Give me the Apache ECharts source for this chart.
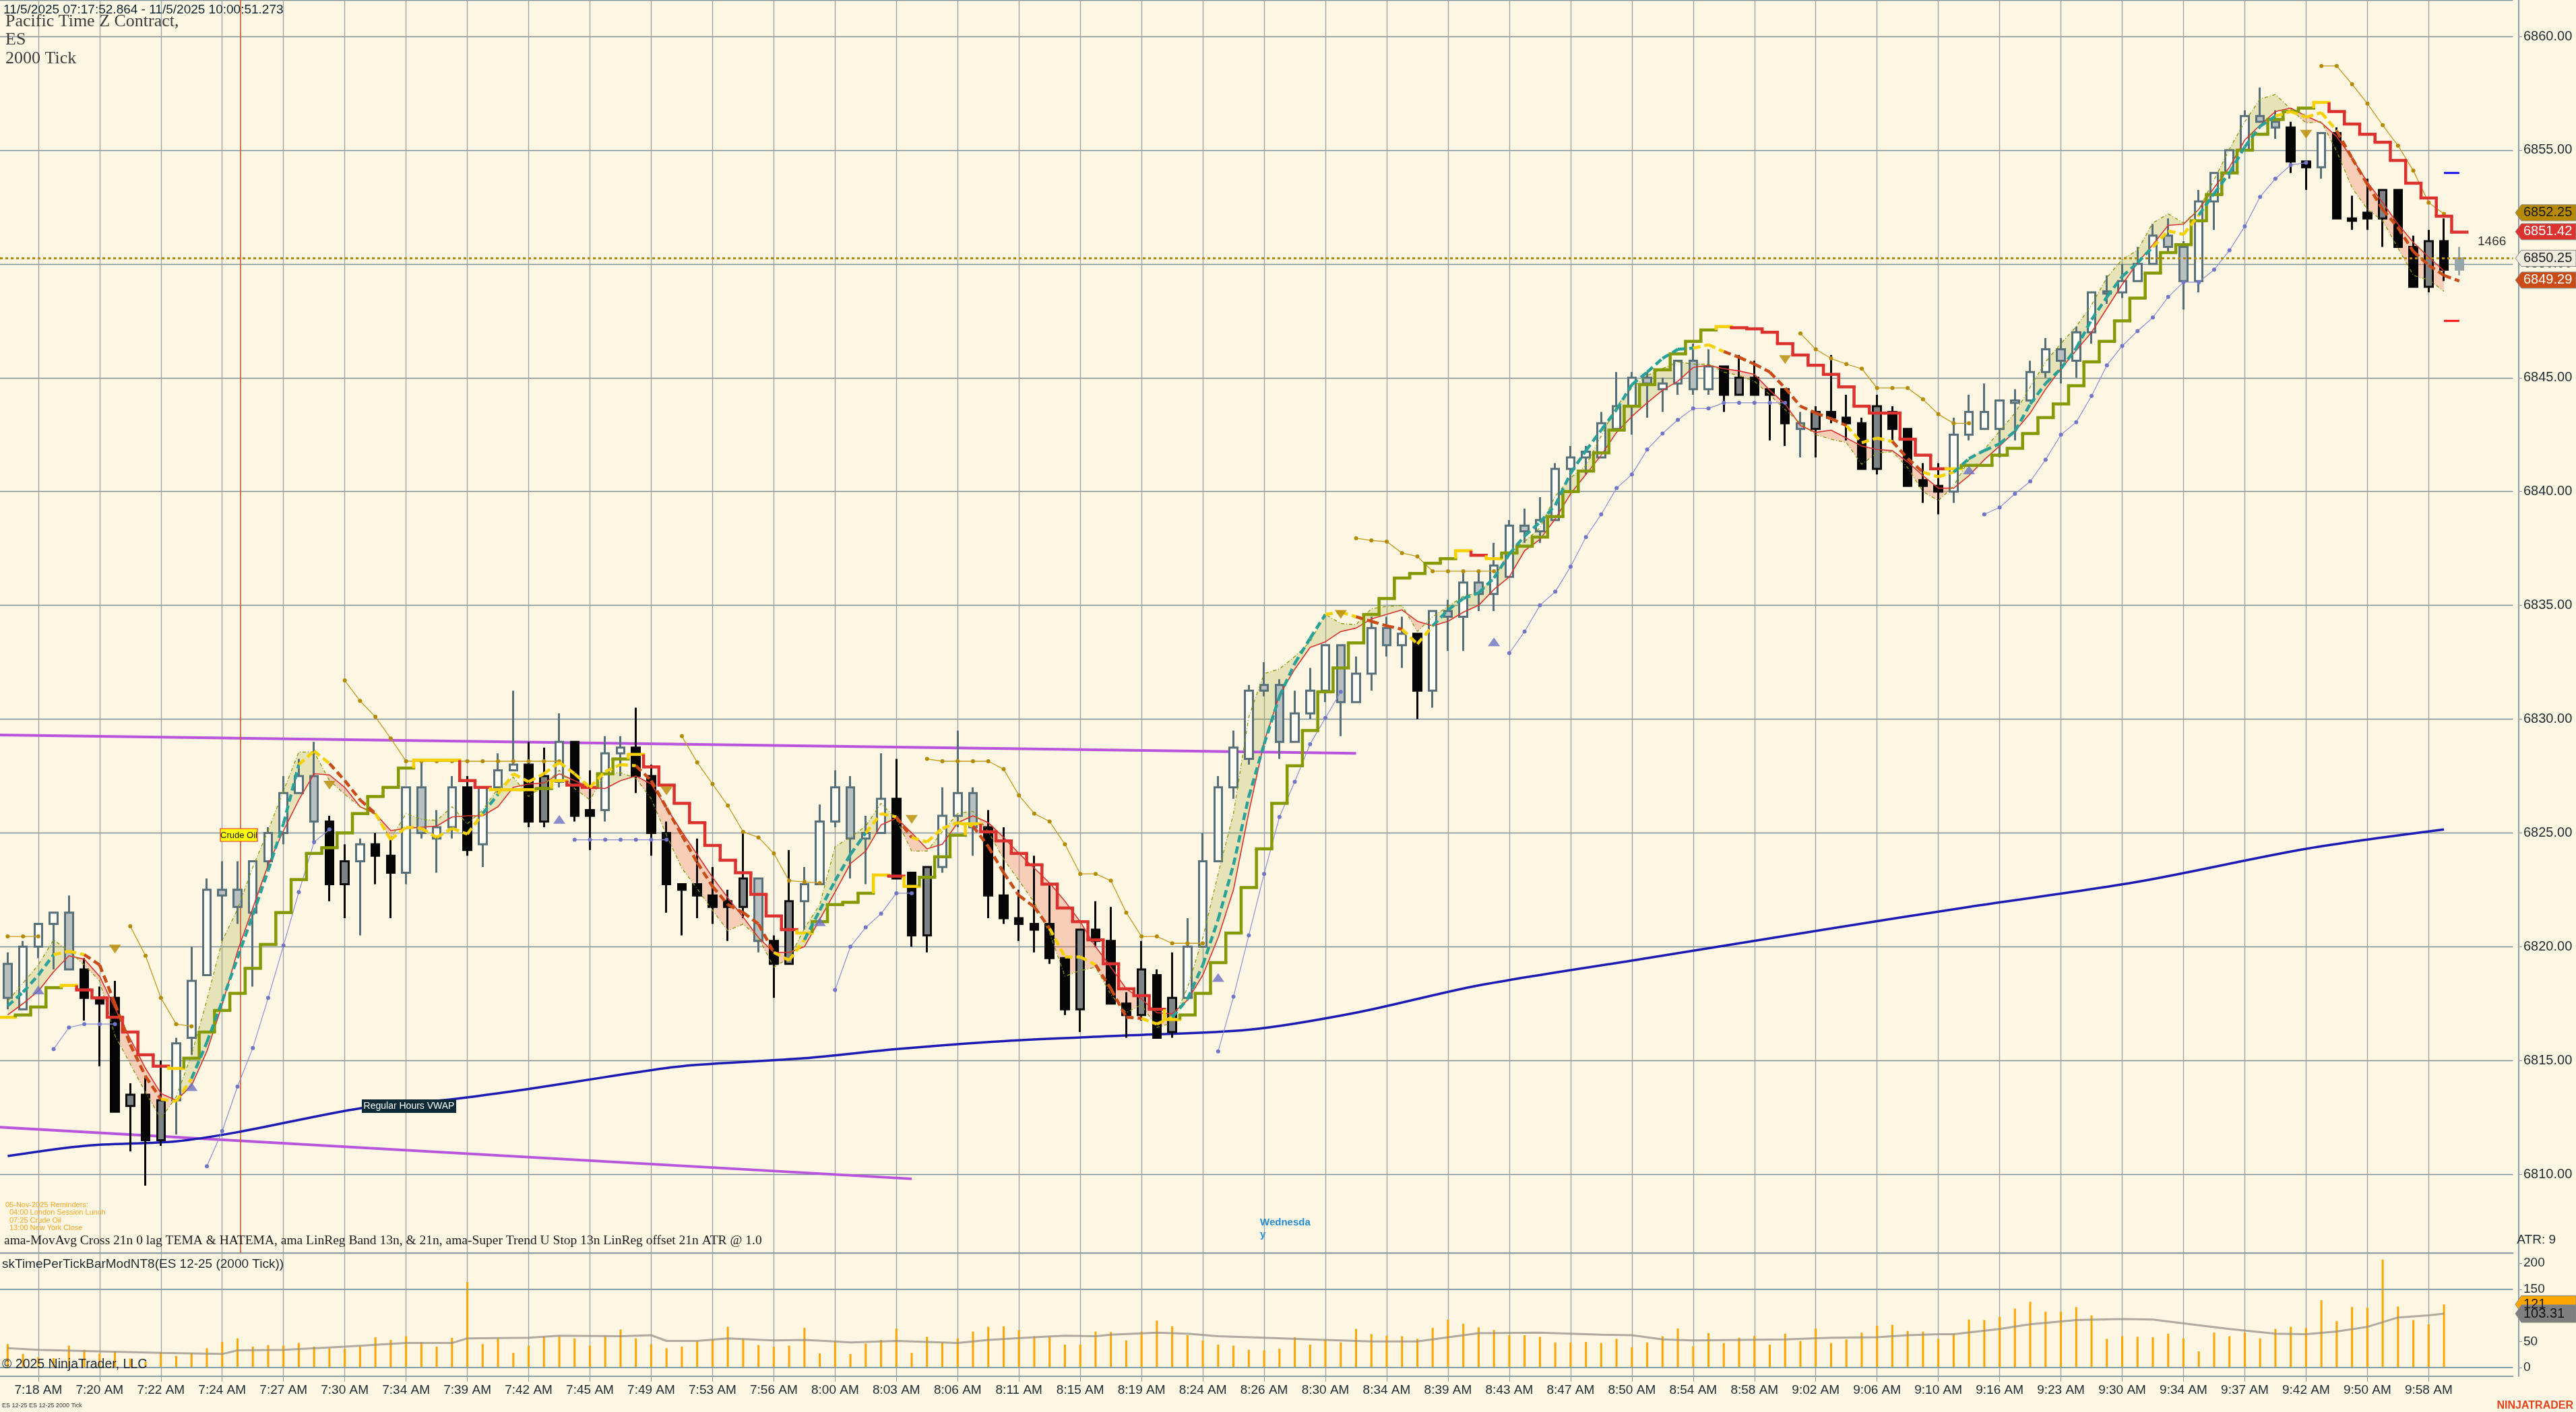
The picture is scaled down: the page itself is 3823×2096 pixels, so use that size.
<!DOCTYPE html>
<html><head><meta charset="utf-8">
<script src="https://cdn.jsdelivr.net/npm/echarts@6/dist/echarts.min.js"></script>
<style>html,body{margin:0;padding:0;background:#fdf6e3;}#c{width:3823px;height:2096px;}</style>
</head><body><div id="c"></div>
<script>
// ---------------- DATA ----------------
const timeLabels = ['7:18 AM','7:20 AM','7:22 AM','7:24 AM','7:27 AM','7:30 AM','7:34 AM','7:39 AM','7:42 AM','7:45 AM','7:49 AM','7:53 AM','7:56 AM','8:00 AM','8:03 AM','8:06 AM','8:11 AM','8:15 AM','8:19 AM','8:24 AM','8:26 AM','8:30 AM','8:34 AM','8:39 AM','8:43 AM','8:47 AM','8:50 AM','8:54 AM','8:58 AM','9:02 AM','9:06 AM','9:10 AM','9:16 AM','9:23 AM','9:30 AM','9:34 AM','9:37 AM','9:42 AM','9:50 AM','9:58 AM'];

const opens = [6819.25,6817.25,6820.0,6821.0,6821.5,6819.0,6817.75,6817.75,6813.0,6813.5,
6811.5,6813.25,6816.0,6818.75,6822.5,6822.5,6821.5,6823.75,6825.0,6826.75,
6827.5,6825.5,6822.75,6823.75,6824.5,6824.0,6823.25,6827.0,6824.75,6825.25,
6827.0,6824.5,6827.0,6827.75,6828.0,6825.5,6827.25,6829.0,6826.0,6826.0,
6828.5,6828.75,6827.5,6825.0,6822.75,6822.75,6822.25,6822.0,6821.75,6823.0,
6820.25,6819.25,6822.0,6822.75,6825.5,6827.0,6824.75,6825.0,6826.5,6823.25,
6820.5,6823.5,6825.75,6826.75,6825.25,6822.25,6821.25,6821.0,6821.0,6819.5,
6817.25,6820.75,6820.25,6817.5,6817.0,6818.75,6816.25,6817.75,6820.0,6823.75,
6827.0,6828.25,6831.5,6831.5,6829.0,6830.25,6831.25,6833.25,6830.75,6832.0,
6834.0,6833.25,6833.75,6831.25,6834.75,6834.5,6836.0,6835.5,6836.25,6838.5,
6838.25,6838.75,6841.0,6841.5,6841.5,6842.75,6843.75,6845.0,6844.5,6844.75,
6845.75,6844.5,6845.5,6844.25,6845.0,6844.5,6844.5,6843.0,6842.75,6843.5,
6843.25,6843.0,6841.0,6843.5,6842.75,6840.5,6840.25,6840.0,6842.5,6842.75,
6842.75,6843.9,6844.0,6845.25,6846.25,6845.75,6847.0,6848.8,6848.75,6849.25,
6850.0,6851.25,6850.75,6849.25,6852.75,6854.0,6855.0,6856.5,6856.25,6856.0,
6854.5,6854.25,6855.75,6852.0,6852.25,6852.0,6853.25,6850.75,6849.0,6851.0,
6849.75];
const highs = [6819.75,6820.25,6821.0,6821.5,6822.25,6819.5,6818.25,6818.5,6814.0,6814.25,
6815.0,6816.0,6820.0,6823.0,6823.75,6823.75,6823.75,6825.25,6827.5,6828.25,
6829.0,6825.75,6824.5,6824.75,6825.0,6824.75,6827.0,6828.25,6826.0,6827.5,
6827.5,6827.0,6828.5,6831.25,6829.0,6828.75,6830.25,6829.0,6827.75,6829.25,
6829.25,6830.5,6828.0,6825.5,6822.75,6824.75,6823.5,6822.5,6825.0,6823.0,
6820.5,6824.25,6823.5,6826.25,6827.75,6827.5,6825.75,6828.5,6828.25,6823.25,
6823.5,6827.0,6829.5,6827.0,6826.0,6825.25,6822.5,6824.0,6822.75,6819.5,
6820.75,6822.0,6821.75,6818.0,6820.25,6819.0,6819.75,6821.25,6825.0,6827.5,
6829.5,6831.5,6832.5,6831.75,6831.25,6832.25,6833.25,6833.25,6832.75,6834.5,
6834.5,6834.5,6833.75,6834.75,6835.25,6836.5,6836.5,6837.75,6838.75,6839.25,
6839.75,6841.25,6842.0,6842.0,6843.5,6845.25,6845.25,6845.25,6845.0,6845.75,
6846.5,6846.25,6845.5,6846.0,6845.75,6844.5,6844.5,6843.5,6843.75,6846.0,
6844.25,6843.25,6844.25,6843.75,6842.75,6841.25,6841.25,6843.25,6844.25,6844.75,
6844.0,6844.5,6845.75,6846.75,6846.75,6847.25,6848.75,6849.5,6850.0,6850.75,
6851.75,6852.0,6851.0,6853.25,6854.0,6855.0,6856.75,6857.75,6856.75,6856.25,
6854.5,6855.75,6856.0,6853.0,6853.75,6853.25,6853.25,6851.25,6851.5,6852.0,
6850.75];
const lows = [6817.25,6817.25,6819.5,6819.0,6819.0,6816.75,6814.75,6812.75,6811.0,6809.5,
6811.25,6811.75,6815.25,6818.75,6820.25,6821.0,6818.25,6823.5,6824.5,6826.75,
6824.5,6822.0,6821.25,6820.5,6822.75,6821.25,6822.75,6824.75,6823.25,6824.75,
6824.0,6823.5,6826.75,6827.75,6825.25,6825.25,6827.0,6825.5,6824.25,6825.5,
6827.5,6826.75,6824.0,6821.5,6820.5,6821.25,6821.0,6820.25,6821.25,6819.75,
6817.75,6819.25,6820.75,6822.75,6825.25,6823.0,6822.75,6825.0,6823.0,6820.0,
6819.75,6823.25,6825.25,6824.0,6821.25,6821.0,6820.25,6819.75,6819.25,6817.0,
6816.25,6820.0,6817.5,6816.0,6816.75,6816.0,6816.0,6817.75,6820.0,6823.75,
6826.5,6828.0,6831.0,6828.25,6829.0,6830.0,6830.75,6829.25,6830.75,6831.25,
6832.75,6832.25,6830.0,6830.5,6833.0,6833.0,6834.75,6834.75,6836.25,6837.75,
6837.75,6838.75,6840.0,6840.75,6841.5,6842.75,6842.5,6843.25,6843.5,6844.25,
6844.25,6844.25,6843.5,6844.25,6844.25,6842.25,6842.0,6841.5,6841.5,6843.0,
6842.25,6841.0,6840.75,6842.25,6840.25,6839.5,6839.0,6839.5,6842.25,6842.75,
6841.5,6842.25,6844.0,6845.0,6844.75,6845.0,6846.5,6848.25,6848.5,6849.25,
6850.0,6850.5,6848.0,6848.75,6851.5,6853.75,6855.0,6856.25,6855.5,6854.0,
6853.25,6853.75,6852.0,6851.5,6851.5,6850.75,6850.75,6849.0,6848.75,6849.25,
6849.5];
const closes = [6817.75,6820.0,6821.0,6821.5,6819.0,6817.75,6817.5,6812.75,6813.5,6811.5,
6813.25,6815.75,6818.5,6822.5,6822.25,6821.75,6823.75,6825.0,6826.75,6827.5,
6825.5,6822.75,6823.75,6824.5,6824.0,6823.25,6827.0,6825.0,6825.25,6827.0,
6824.25,6827.0,6827.75,6828.0,6825.5,6827.5,6829.0,6825.75,6825.75,6828.5,
6828.75,6827.5,6825.0,6822.75,6822.5,6822.25,6821.75,6821.75,6823.0,6820.25,
6819.25,6822.0,6822.75,6825.5,6827.0,6824.75,6825.0,6826.5,6823.0,6820.5,
6823.5,6825.75,6826.75,6825.25,6822.25,6821.25,6821.0,6820.75,6819.5,6817.25,
6820.75,6820.25,6817.5,6817.0,6819.0,6816.0,6817.75,6820.0,6823.75,6827.0,
6828.75,6831.25,6831.25,6829.0,6830.25,6831.25,6833.25,6830.75,6832.0,6834.0,
6833.25,6833.75,6831.25,6834.75,6834.5,6836.0,6835.5,6836.75,6838.5,6838.25,
6838.75,6841.0,6841.5,6841.75,6843.0,6843.75,6845.0,6844.75,6844.75,6845.75,
6844.5,6845.5,6844.25,6845.0,6844.25,6844.25,6843.0,6842.75,6843.5,6843.25,
6843.0,6841.0,6843.75,6842.75,6840.25,6840.25,6840.0,6842.5,6843.5,6843.5,
6844.0,6844.0,6845.25,6846.25,6845.75,6847.0,6848.75,6848.7,6849.25,6850.0,
6851.25,6850.75,6849.25,6852.75,6854.0,6855.0,6856.5,6856.25,6856.0,6854.5,
6854.25,6855.75,6852.0,6851.9,6852.0,6853.25,6850.75,6849.0,6851.0,6849.75,
6850.25];

// LinReg band: thin red line and olive dash-dot line
const lrRed = [6817.0,6817.5,6818.05,6818.9,6819.6,6819.45,6818.7,6817.3,6815.95,6814.65,
6813.55,6813.25,6813.9,6815.4,6817.45,6819.8,6821.7,6823.6,6825.1,6826.45,
6827.6,6827.55,6827.0,6826.15,6825.85,6825.1,6825.2,6825.25,6825.3,6825.7,
6825.75,6825.75,6826.15,6827.0,6827.15,6827.2,6827.6,6827.3,6827.0,6826.95,
6827.3,6827.5,6827.15,6826.1,6825.05,6824.05,6823.05,6822.15,6821.3,6820.4,
6819.75,6819.75,6820.0,6821.2,6822.4,6823.65,6824.2,6825.35,6825.65,6825.0,
6824.3,6824.5,6825.45,6825.75,6825.45,6824.8,6824.1,6823.45,6822.8,6822.0,
6821.1,6820.0,6819.1,6818.15,6817.7,6817.1,6817.05,6817.65,6818.75,6820.4,
6822.5,6825.9,6829.0,6831.05,6832.2,6833.15,6833.4,6833.85,6834.0,6834.4,
6834.6,6834.8,6834.3,6834.1,6834.3,6834.7,6835.0,6835.7,6836.25,6837.4,
6837.9,6838.8,6839.9,6840.75,6841.6,6842.6,6843.3,6843.9,6844.45,6844.85,
6845.45,6845.55,6845.4,6845.3,6845.15,6844.45,6843.85,6842.9,6842.6,6842.7,
6842.35,6842.0,6841.85,6841.8,6841.3,6840.7,6840.15,6840.15,6840.7,6841.4,
6842.0,6842.65,6843.45,6844.5,6845.4,6846.2,6847.0,6848.05,6849.1,6850.05,
6850.85,6851.7,6851.75,6852.4,6853.35,6854.25,6855.45,6856.1,6856.7,6856.85,
6856.5,6856.2,6855.6,6854.65,6853.6,6852.7,6851.75,6850.95,6850.3,6849.7];
const lrOlive = [6817.6,6818.4,6819.2,6820.3,6819.8,6819.2,6818.5,6816.1,6814.85,6813.6,
6812.45,6813.4,6815.25,6817.65,6820.25,6821.65,6823.5,6825.1,6826.85,6828.55,
6828.55,6827.3,6826.7,6826.15,6825.8,6824.75,6825.85,6825.6,6825.55,6826.15,
6825.4,6826.0,6826.95,6827.45,6826.6,6827.1,6827.75,6826.95,6826.45,6827.6,
6827.65,6827.4,6826.5,6824.9,6823.45,6822.55,6821.6,6820.7,6821.0,6820.4,
6819.1,6819.5,6820.8,6821.85,6824.4,6824.8,6825.3,6826.3,6825.6,6824.2,
6824.2,6825.05,6825.85,6825.95,6825.05,6823.85,6822.9,6821.95,6820.6,6818.7,
6818.95,6819.1,6817.9,6817.1,6817.45,6816.45,6816.65,6818.2,6820.4,6823.2,
6825.85,6830.1,6832.0,6832.2,6832.75,6833.4,6834.6,6834.2,6834.15,6834.85,
6834.95,6835.0,6833.85,6834.5,6834.95,6835.4,6835.55,6836.2,6837.35,6837.8,
6838.4,6839.8,6840.6,6841.15,6842.45,6843.75,6844.55,6845.1,6845.4,6845.7,
6845.6,6845.6,6845.25,6845.1,6844.85,6844.25,6843.6,6843.0,6842.5,6842.3,
6842.15,6841.2,6841.7,6841.75,6841.05,6840.0,6839.6,6840.25,6841.4,6841.85,
6842.65,6843.45,6844.6,6845.7,6846.5,6847.25,6848.2,6849.4,6850.2,6850.6,
6851.8,6852.2,6851.8,6852.4,6853.7,6855.05,6856.25,6857.25,6857.45,6856.8,
6856.2,6856.25,6854.95,6853.35,6852.4,6851.9,6850.7,6849.5,6849.3,6848.8];

// TEMA (dashed, coloured by slope)
const tema = [6817.4,6818.0,6818.75,6819.65,6819.8,6819.65,6819.2,6817.5,6815.7,6814.3,
6813.3,6813.2,6814.2,6815.8,6817.6,6819.5,6821.4,6823.35,6825.4,6828.0,
6828.6,6828.05,6827.3,6826.45,6825.85,6824.7,6825.25,6825.2,6824.8,6825.2,
6824.95,6825.85,6826.7,6827.6,6827.25,6827.6,6828.1,6827.6,6827.0,6827.7,
6828.0,6827.95,6827.3,6826.1,6824.9,6823.7,6822.65,6821.85,6821.5,6821.0,
6819.75,6819.4,6820.3,6821.6,6822.9,6824.05,6825.0,6825.85,6825.7,6824.8,
6824.6,6825.2,6825.45,6825.3,6824.4,6823.25,6822.25,6821.75,6820.8,6819.55,
6819.55,6819.2,6818.15,6816.9,6816.85,6816.6,6816.9,6817.7,6819.2,6821.2,
6823.6,6826.6,6828.9,6831.0,6832.45,6833.55,6834.6,6834.7,6834.5,6834.3,
6834.1,6833.95,6833.3,6834.1,6834.8,6835.3,6835.55,6836.2,6837.25,6838.05,
6838.65,6839.4,6840.8,6841.8,6842.7,6843.6,6844.7,6845.25,6845.85,6846.25,
6846.3,6846.45,6846.15,6845.9,6845.6,6845.25,6844.55,6843.75,6843.45,6843.2,
6842.9,6842.15,6842.35,6842.2,6841.45,6840.85,6840.65,6840.85,6841.45,6841.8,
6842.1,6842.65,6843.85,6844.75,6845.4,6846.3,6847.55,6848.55,6849.45,6850.05,
6850.75,6851.45,6851.3,6852.15,6853.1,6854.0,6855.15,6856.05,6856.5,6856.7,
6856.45,6856.65,6855.85,6854.65,6853.5,6852.4,6851.6,6850.55,6849.95,6849.5,6849.25];

// Super Trend U Stop (step line) and its state per bar (u = up, d = down, y = flip)
const stValues = [6816.9,6817.0,6817.35,6818.2,6818.3,6818.1,6817.75,6816.9,6816.25,6815.25,
6814.75,6814.65,6815.1,6816.25,6817.2,6817.95,6819.05,6820.1,6821.5,6822.95,
6824.1,6824.35,6825.0,6825.85,6826.6,6827.0,6827.85,6828.2,6828.2,6828.2,
6827.3,6827.0,6826.9,6826.9,6826.9,6826.95,6827.3,6827.1,6827.0,6827.6,
6828.25,6828.45,6827.9,6827.1,6826.3,6825.45,6824.45,6823.8,6823.25,6822.3,
6821.35,6820.75,6820.6,6821.1,6821.85,6821.95,6822.35,6823.15,6823.1,6822.65,
6823.05,6823.95,6824.9,6825.4,6825.05,6824.65,6824.1,6823.6,6822.75,6821.7,
6821.1,6820.3,6819.25,6818.15,6817.85,6817.25,6816.8,6817.0,6817.95,6819.3,
6820.6,6822.6,6824.3,6826.3,6827.95,6829.5,6831.2,6832.25,6833.35,6834.6,
6835.3,6836.2,6836.4,6836.85,6837.05,6837.4,6837.2,6837.05,6837.3,6837.6,
6838.0,6838.9,6840.0,6840.9,6841.7,6842.7,6843.75,6844.7,6845.35,6846.05,
6846.6,6847.1,6847.25,6847.2,6847.15,6847.0,6846.5,6846.0,6845.55,6845.15,
6844.6,6843.75,6843.45,6843.45,6842.3,6841.6,6841.0,6841.0,6841.15,6841.15,
6841.6,6841.9,6842.55,6843.25,6843.85,6844.65,6845.7,6846.6,6847.5,6848.5,
6849.6,6850.5,6850.85,6851.9,6853.05,6854.0,6855.0,6855.7,6856.35,6856.7,
6856.85,6857.1,6856.7,6856.15,6855.7,6855.35,6854.55,6853.55,6852.9,6852.1,6851.4];
const stStateRuns = [['y',1],['u',3],['y',1],['d',6],['y',1],['u',15],['y',3],['d',2],['y',3],['u',1],['y',1],['d',2],['u',2],['y',1],['d',10],['y',1],['u',4],['y',1],['d',1],['y',1],['u',3],['y',1],['d',12],['y',1],['u',18],['y',1],['d',1],['y',1],['u',14],['y',1],['d',14],['y',1],['u',23],['y',1],['d',9]];

// trailing stop dots: [first bar, values...]
const goldStopSegs = [
 [0,[6820.45,6820.45,6820.45]],
 [8,[6820.9,6819.6,6817.75,6816.6,6816.5]],
 [22,[6831.7,6830.8,6830.1,6829.15,6828.15,6828.15,6828.15,6828.15,6828.15,6828.15,6828.15,6828.15,6828.15,6828.15,6828.15]],
 [44,[6829.25,6828.1,6827.15,6826.2,6825.05,6824.8,6824.1,6822.9,6822.85,6822.8]],
 [60,[6828.25,6828.15,6828.15,6828.15,6828.15,6827.8,6826.65,6825.85,6825.5,6824.5,6823.2,6823.2,6822.9,6821.5,6820.45,6820.45,6820.15,6820.15,6820.15]],
 [88,[6837.95,6837.85,6837.8,6837.3,6837.15,6836.5,6836.5,6836.5,6836.5,6836.5]],
 [117,[6846.95,6846.25,6845.85,6845.6,6845.4,6844.55,6844.55,6844.55,6844.05,6843.4,6843.0,6843.0]],
 [151,[6858.7,6858.7,6857.9,6857.05,6856.1,6855.2,6854.1,6852.7,6852.2]]
];
const violetStopSegs = [
 [3,[6815.5,6816.45,6816.6,6816.6,6816.6]],
 [13,[6810.35,6811.9,6813.85,6815.55,6817.75,6820.05,6822.4,6824.6,6825.15]],
 [37,[6824.7,6824.7,6824.7,6824.7,6824.7,6824.7,6824.7]],
 [54,[6818.1,6820.0,6820.85,6821.45,6822.35,6822.35]],
 [79,[6815.4,6817.8,6820.5,6823.2,6825.7,6827.25,6828.9,6830.05,6831.2]],
 [98,[6832.9,6833.85,6835.0,6835.6,6836.7,6838.0,6839.0,6840.15,6840.75,6841.85,6842.55,6843.15,6843.65,6843.65,6843.9,6843.9,6843.9,6843.9,6843.9]],
 [129,[6839.0,6839.3,6839.9,6840.45,6841.4,6842.5,6843.05,6844.2,6845.55,6846.4,6847.05,6847.65,6848.55,6849.2,6849.2,6849.75,6850.6,6851.65,6852.95,6853.75,6854.35,6854.45]]
];

const vwapPts = [[0,6810.8],[5,6811.25],[11,6811.45],[15,6811.85],[23,6812.9],[29,6813.3],[34,6813.75],[39,6814.27],[44,6814.75],[52,6815.1],[58,6815.5],[65,6815.85],[73,6816.1],[81,6816.35],[88,6817.1],[96,6818.3],[107,6819.5],[119,6820.8],[128,6821.75],[139,6822.85],[150,6824.3],[159,6825.15]];
const upperTrendLine = [[0,6829.3],[88,6828.5]];
const lowerTrendLine = [[0,6812.05],[59,6809.8]];
const upSignals = [[2,6818.1],[12,6813.85],[36,6825.6],[53,6821.1],[79,6818.65],[97,6833.4],[128,6840.95]];
const downSignals = [[7,6819.9],[21,6827.1],[43,6826.85],[59,6825.6],[87,6834.6],[116,6845.8],[150,6855.7]];
const targetDashes = [[159,6854.0],[159,6847.5]];
const eventBar = 15.2; // 07:25 Crude Oil
const lastPrice = 6850.25;
const priceTags = [6852.25, 6851.42, 6850.25, 6849.29];

// time per tick panel
const tptValues = [45,26,20,18,42,34,27,31,17,11,30,22,28,37,49,56,40,43,42,47,
40,37,36,40,58,53,60,49,40,57,164,45,56,28,42,59,60,56,42,60,
73,56,45,37,40,50,53,78,55,43,40,42,76,27,50,26,46,53,75,28,
59,48,56,69,78,79,72,60,59,44,44,69,68,52,69,90,79,62,52,44,
42,34,33,36,58,44,54,48,74,64,61,60,55,76,92,84,77,72,62,62,
59,48,48,49,47,55,39,48,60,75,41,66,47,57,61,44,65,51,75,47,
54,67,80,82,70,69,55,65,92,91,97,113,126,107,107,116,100,55,60,59,
58,65,56,31,67,60,67,56,74,78,76,129,89,116,115,207,117,91,83,121,null];
const tptAvgPts = [[0,37],[2,34],[6,31],[10,28],[14,26],[15,33],[18,34],[22,40],[26,47],[29,47],[30,56],[34,57],[36,61],[40,60],[42,62],[43,51],[45,51],[47,56],[50,52],[52,53],[54,50],[55,48],[58,51],[62,47],[64,53],[67,58],[69,61],[71,60],[72,63],[75,67],[77,65],[79,60],[82,57],[85,54],[89,50],[92,50],[96,66],[100,67],[104,63],[106,62],[108,54],[110,52],[113,53],[116,54],[119,57],[122,58],[124,62],[126,64],[127,64],[130,74],[132,83],[135,91],[138,93],[140,92],[143,81],[145,74],[148,65],[150,64],[152,69],[154,78],[156,96],[158,100],[159,103.31]];
const tptTags = [121, 103.31];

// ---------------- BUILD ----------------
const NSLOT = 164;
const isLabelIdx = i => i >= 2 && (i - 2) % 4 === 0 && (i - 2) / 4 < timeLabels.length;
const cats = [];
for (let i = 0; i < NSLOT; i++) cats.push(isLabelIdx(i) ? timeLabels[(i - 2) / 4] : '_' + i);

const stState = stStateRuns.map(r => r[0].repeat(r[1])).join('');
const ST_COL = {u: '#859900', d: '#dc322f', y: '#f7d000'};
const TEAL = '#2aa198', ORANGE = '#cb4b16', YEL = '#f7d000';
const BAND_UP = 'rgba(150,160,30,0.22)', BAND_DN = 'rgba(232,110,80,0.30)';

function segsToArray(segs, n) {
  const a = new Array(n).fill(null);
  segs.forEach(([s, vals]) => vals.forEach((v, k) => { a[s + k] = v; }));
  return a.map((v, i) => [i, v]);
}

const nBars = opens.length;
const candleData = opens.map((o, i) => {
  const c = closes[i], up = c >= o;
  const j = Math.min(i, lrRed.length - 1);
  const tr = lrOlive[j] >= lrRed[j];
  let fill, border;
  if (i === nBars - 1) { fill = '#97a6a9'; border = '#97a6a9'; }
  else if (up) { fill = tr ? '#fffcf3' : '#7e8486'; border = tr ? '#566f79' : '#0a0a0a'; }
  else { fill = tr ? '#b9c0c2' : '#050505'; border = tr ? '#566f79' : '#050505'; }
  return {value: [o, c, lows[i], highs[i]], itemStyle: {color: fill, color0: fill, borderColor: border, borderColor0: border, borderColorDoji: border}};
});

const gridLineColor = '#94a4a9';
const labelInterval = (idx) => isLabelIdx(idx);
const FONT = '"Liberation Sans", Arial, sans-serif';

const option = {
  animation: false,
  backgroundColor: '#fdf6e3',
  textStyle: {fontFamily: FONT},
  grid: [
    {left: 0, right: 93.6, top: 0, height: 1860, containLabel: false, outerBoundsMode: 'none'},
    {left: 0, right: 93.6, top: 1860, height: 183, containLabel: false, outerBoundsMode: 'none'}
  ],
  xAxis: [
    {gridIndex: 0, type: 'category', data: cats, boundaryGap: true,
     axisLine: {show: true, onZero: false, lineStyle: {color: '#8d9ea4', width: 2}},
     axisTick: {show: false}, axisLabel: {show: false},
     splitLine: {show: true, interval: labelInterval, alignWithLabel: true, lineStyle: {color: gridLineColor, width: 1.3}}},
    {gridIndex: 1, type: 'category', data: cats, boundaryGap: true,
     axisLine: {show: true, onZero: false, lineStyle: {color: '#8d9ea4', width: 2}},
     axisTick: {show: true, interval: labelInterval, alignWithLabel: true, length: 8, lineStyle: {color: '#8d9ea4'}},
     axisLabel: {show: true, interval: labelInterval, fontSize: 19, color: '#1c2a30', fontFamily: FONT, margin: 11},
     splitLine: {show: true, interval: labelInterval, alignWithLabel: true, lineStyle: {color: gridLineColor, width: 1.3}}}
  ],
  yAxis: [
    {gridIndex: 0, type: 'value', position: 'right', offset: 8.6, min: 6806.54, max: 6861.60, splitNumber: 11,
     axisLine: {show: true, lineStyle: {color: '#8d9ea4', width: 2}},
     axisTick: {show: true, length: 5, lineStyle: {color: '#8d9ea4'}},
     axisLabel: {showMinLabel: false, showMaxLabel: false, formatter: v => v.toFixed(2), fontSize: 20, color: '#1c2a30', fontFamily: FONT, margin: 7},
     splitLine: {show: true, lineStyle: {color: '#7f9196', width: 1.3}}},
    {gridIndex: 1, type: 'value', position: 'right', offset: 8.6, min: -16.8, max: 219.6, splitNumber: 5,
     axisLine: {show: true, lineStyle: {color: '#8d9ea4', width: 2}},
     axisTick: {show: true, length: 5, lineStyle: {color: '#8d9ea4'}},
     axisLabel: {showMinLabel: false, showMaxLabel: false, fontSize: 19, color: '#1c2a30', fontFamily: FONT, margin: 7},
     splitLine: {show: false}}
  ],
  series: [
    // band fill
    {type: 'custom', xAxisIndex: 0, yAxisIndex: 0, z: 1, silent: true,
     data: lrRed.map((r, i) => [i, r, lrOlive[i]]), encode: {x: 0, y: [1, 2]},
     renderItem(params, api) {
       const i = params.dataIndex; if (i === 0) return null;
       const r0 = lrRed[i-1], r1 = lrRed[i], o0 = lrOlive[i-1], o1 = lrOlive[i];
       const d0 = o0 - r0, d1 = o1 - r1;
       const pa = api.coord([i-1, r0]), pb = api.coord([i, r1]), pc = api.coord([i, o1]), pd = api.coord([i-1, o0]);
       const col = d => d >= 0 ? BAND_UP : BAND_DN;
       if (d0 * d1 >= 0) return {type: 'polygon', shape: {points: [pa, pb, pc, pd]}, style: {fill: col(d0 + d1)}};
       const t = d0 / (d0 - d1);
       const m = [pa[0] + t * (pb[0] - pa[0]), pa[1] + t * (pb[1] - pa[1])];
       return {type: 'group', children: [
         {type: 'polygon', shape: {points: [pa, m, pd]}, style: {fill: col(d0)}},
         {type: 'polygon', shape: {points: [m, pb, pc]}, style: {fill: col(d1)}}]};
     }},
    // VWAP
    {type: 'line', xAxisIndex: 0, yAxisIndex: 0, z: 2, data: vwapPts, smooth: 0.3, showSymbol: false, silent: true,
     lineStyle: {color: '#1c1cb4', width: 3.5}},
    // purple trend lines
    {type: 'custom', xAxisIndex: 0, yAxisIndex: 0, z: 2, silent: true,
     data: [[upperTrendLine[0][0], upperTrendLine[0][1], 0], [lowerTrendLine[0][0], lowerTrendLine[0][1], 1]], encode: {x: 0, y: 1},
     renderItem(params, api) {
       const L = params.dataIndex === 0 ? upperTrendLine : lowerTrendLine;
       const a = api.coord(L[0]), b = api.coord(L[1]);
       const w = api.size([1, 0])[0];
       const slope = (b[1] - a[1]) / (b[0] - a[0]);
       const x0 = a[0] - w / 2;
       return {type: 'line', shape: {x1: x0, y1: a[1] - slope * (w / 2), x2: b[0], y2: b[1]}, style: {stroke: '#b955dc', lineWidth: 4}};
     }},
    // candles
    {type: 'candlestick', xAxisIndex: 0, yAxisIndex: 0, z: 3, barWidth: 12, data: candleData, silent: true,
     itemStyle: {borderWidth: 3},
     markLine: {symbol: 'none', silent: true, label: {show: false}, lineStyle: {color: '#b58900', width: 3, type: [4, 4]},
       data: [{yAxis: lastPrice}]}},
    // thin red line
    {type: 'line', xAxisIndex: 0, yAxisIndex: 0, z: 4, data: lrRed.map((v, i) => [i, v]), showSymbol: false, silent: true,
     lineStyle: {color: '#dc322f', width: 1.6}},
    // olive dash-dot line
    {type: 'line', xAxisIndex: 0, yAxisIndex: 0, z: 4, data: lrOlive.map((v, i) => [i, v]), showSymbol: false, silent: true,
     lineStyle: {color: '#859900', width: 1.3, type: [5, 3, 1, 3]}},
    // trailing dots gold
    {type: 'line', xAxisIndex: 0, yAxisIndex: 0, z: 4, data: segsToArray(goldStopSegs, nBars), connectNulls: false, silent: true,
     symbol: 'circle', symbolSize: 6, showSymbol: true, itemStyle: {color: '#b58900'}, lineStyle: {color: '#c99a1a', width: 1.3}},
    // trailing dots violet
    {type: 'line', xAxisIndex: 0, yAxisIndex: 0, z: 4, data: segsToArray(violetStopSegs, nBars), connectNulls: false, silent: true,
     symbol: 'circle', symbolSize: 6, showSymbol: true, itemStyle: {color: '#7075c8'}, lineStyle: {color: '#8a8ed6', width: 1.2}},
    // super trend step
    {type: 'custom', xAxisIndex: 0, yAxisIndex: 0, z: 5, silent: true,
     data: stValues.map((v, i) => [i, v]), encode: {x: 0, y: 1},
     renderItem(params, api) {
       const i = params.dataIndex;
       const w = api.size([1, 0])[0];
       const p = api.coord([i, stValues[i]]);
       const c = ST_COL[stState[i]] || '#859900';
       const ch = [{type: 'line', shape: {x1: p[0] - w / 2, y1: p[1], x2: p[0] + w / 2, y2: p[1]}, style: {stroke: c, lineWidth: 4.5, lineCap: 'square'}}];
       if (i > 0) {
         const q = api.coord([i, stValues[i-1]]);
         ch.push({type: 'line', shape: {x1: p[0] - w / 2, y1: q[1], x2: p[0] - w / 2, y2: p[1]}, style: {stroke: c, lineWidth: 4.5}});
       }
       return {type: 'group', children: ch};
     }},
    // TEMA dashed
    {type: 'custom', xAxisIndex: 0, yAxisIndex: 0, z: 6, silent: true,
     data: tema.map((v, i) => [i, v]), encode: {x: 0, y: 1},
     renderItem(params, api) {
       const i = params.dataIndex; if (i === 0) return null;
       const dir = k => (k >= 1 && k < tema.length) ? Math.sign(tema[k] - tema[k-1]) : 0;
       const d = dir(i);
       let c = d >= 0 ? TEAL : ORANGE;
       if ((i >= 2 && dir(i-1) !== d) || (i + 1 < tema.length && dir(i+1) !== d)) c = YEL;
       const a = api.coord([i-1, tema[i-1]]), b = api.coord([i, tema[i]]);
       return {type: 'line', shape: {x1: a[0], y1: a[1], x2: b[0], y2: b[1]}, style: {stroke: c, lineWidth: 4.5, lineDash: [11, 6]}};
     }},
    // signals
    {type: 'scatter', xAxisIndex: 0, yAxisIndex: 0, z: 7, silent: true, data: upSignals, symbol: 'triangle', symbolSize: [18, 13], itemStyle: {color: '#6c71c4'}},
    {type: 'scatter', xAxisIndex: 0, yAxisIndex: 0, z: 7, silent: true, data: downSignals, symbol: 'triangle', symbolRotate: 180, symbolSize: [18, 13], itemStyle: {color: '#b58900'}},
    // target dashes + event line
    {type: 'custom', xAxisIndex: 0, yAxisIndex: 0, z: 7, silent: true,
     data: targetDashes.map((d, k) => [d[0], d[1], k]), encode: {x: 0, y: 1},
     renderItem(params, api) {
       const d = targetDashes[params.dataIndex];
       const a = api.coord([d[0], d[1]]), b = api.coord([d[0] + 1, d[1]]);
       return {type: 'line', shape: {x1: a[0], y1: a[1], x2: b[0], y2: b[1]}, style: {stroke: params.dataIndex === 0 ? '#1010f0' : '#ff1010', lineWidth: 3}};
     }},
    {type: 'custom', xAxisIndex: 0, yAxisIndex: 0, z: 2, silent: true,
     data: [[Math.floor(eventBar), 6830]], encode: {x: 0, y: 1},
     renderItem(params, api) {
       const w = api.size([1, 0])[0];
       const x = api.coord([Math.floor(eventBar), 6830])[0] + (eventBar - Math.floor(eventBar)) * w;
       const cs = params.coordSys;
       return {type: 'line', shape: {x1: x, y1: cs.y, x2: x, y2: cs.y + cs.height}, style: {stroke: '#c65a30', lineWidth: 1.6}};
     }},
    // time per tick panel
    {type: 'bar', xAxisIndex: 1, yAxisIndex: 1, z: 2, data: tptValues, barWidth: 3, silent: true, itemStyle: {color: '#ffa500'},
     markLine: {symbol: 'none', silent: true, label: {show: false}, lineStyle: {color: '#8d9ea4', width: 2, type: 'solid'},
       data: [{yAxis: 0}, {yAxis: 150}]}},
    {type: 'line', xAxisIndex: 1, yAxisIndex: 1, z: 3, data: tptAvgPts, showSymbol: false, silent: true,
     lineStyle: {color: 'rgba(150,145,135,0.75)', width: 3}}
  ]
};

const chart = echarts.init(document.getElementById('c'), null, {renderer: 'canvas', width: 3823, height: 2096});
chart.setOption(option);

// ---------------- TEXT & TAGS ----------------
function txt(x, y, text, font, fill, align) {
  return {type: 'text', x, y, z: 200, silent: true,
    style: {text, font, fill, align: align || 'left', textAlign: align || 'left', verticalAlign: 'middle', textVerticalAlign: 'middle'}};
}
function tag(y, bg, fg, text, h) {
  h = h || 24;
  return [
    {type: 'polygon', z: 210, silent: true, shape: {points: [[3733, y], [3742, y - h / 2], [3823, y - h / 2], [3823, y + h / 2], [3742, y + h / 2]]},
     style: {fill: bg, stroke: '#8a8a8a', lineWidth: 1}},
    {type: 'text', z: 211, x: 3745, y: y, silent: true,
     style: {text, font: '20px ' + FONT, fill: fg, verticalAlign: 'middle', textVerticalAlign: 'middle'}}
  ];
}
const yp = v => chart.convertToPixel({yAxisIndex: 0}, v);
const yq = v => chart.convertToPixel({yAxisIndex: 1}, v);
const tagStyles = [['#b58900', '#1a1a1a'], ['#dc322f', '#ffffff'], ['#efebdf', '#1a1a1a'], ['#cb4b16', '#ffffff']];
const elements = [];
priceTags.forEach((v, k) => elements.push(...tag(yp(v), tagStyles[k][0], tagStyles[k][1], v.toFixed(2), 24)));
elements.push(...tag(yq(tptTags[0]), '#ffa500', '#1a1a1a', String(tptTags[0]), 26));
elements.push(...tag(yq(tptTags[1]), '#7f7f7f', '#111111', tptTags[1].toFixed(2), 26));

elements.push(txt(5, 15, '11/5/2025 07:17:52.864 - 11/5/2025 10:00:51.273', '19px ' + FONT, '#0b2630'));
const SERIF = '"Liberation Serif", "Times New Roman", serif';
elements.push(txt(8, 32, 'Pacific Time Z Contract,', '26px ' + SERIF, '#3d3d3d'));
elements.push(txt(8, 59, 'ES', '26px ' + SERIF, '#3d3d3d'));
elements.push(txt(8, 87, '2000 Tick', '26px ' + SERIF, '#3d3d3d'));
const NARROW = '"Liberation Sans Narrow", "Liberation Sans", Arial, sans-serif';
[['05-Nov-2025 Reminders:', 8], ['04:00 London Session Lunch', 14], ['07:25 Crude Oil', 14], ['13:00 New York Close', 14]]
  .forEach(([t, x], k) => elements.push(txt(x, 1789 + k * 11.4, t, '11px ' + NARROW, '#f5a623')));
elements.push(txt(6, 1842, 'ama-MovAvg Cross 21n 0 lag TEMA & HATEMA, ama LinReg Band 13n, & 21n, ama-Super Trend U Stop 13n LinReg offset 21n ATR @ 1.0', '19.5px ' + SERIF, '#1a1a1a'));
elements.push(txt(3793, 1841, 'ATR: 9', '19px ' + FONT, '#1c2a30', 'right'));
elements.push(txt(1870, 1815, 'Wednesda', 'bold 15px ' + FONT, '#268bd2'));
elements.push(txt(1870, 1833, 'y', 'bold 15px ' + FONT, '#268bd2'));
elements.push(txt(3, 1877, 'skTimePerTickBarModNT8(ES 12-25 (2000 Tick))', '19px ' + FONT, '#1c2a30'));
elements.push(txt(3, 2026, '\u00a9 2025 NinjaTrader, LLC', '19.5px ' + FONT, '#1c2a30'));
elements.push(txt(3, 2087, 'ES 12-25 ES 12-25 2000 Tick', '9px ' + NARROW, '#333333'));
elements.push(txt(3819, 2087, 'NINJATRADER', 'bold 16px ' + NARROW, '#e8401c', 'right'));
elements.push(txt(3677, 359, '1466', '19px ' + FONT, '#333333'));
// Crude Oil marker
elements.push({type: 'rect', z: 200, silent: true, shape: {x: 327, y: 1230, width: 55, height: 19}, style: {fill: '#ffff00', stroke: '#e0301e', lineWidth: 1.2}});
elements.push({type: 'text', z: 201, x: 354.5, y: 1240, silent: true, style: {text: 'Crude Oil', font: '13px ' + FONT, fill: '#111', align: 'center', textAlign: 'center', verticalAlign: 'middle', textVerticalAlign: 'middle'}});
// VWAP label
elements.push({type: 'rect', z: 200, silent: true, shape: {x: 537, y: 1632, width: 140, height: 20}, style: {fill: '#0c2b36'}});
elements.push({type: 'text', z: 201, x: 607, y: 1642, silent: true, style: {text: 'Regular Hours VWAP', font: '14px ' + FONT, fill: '#ffffff', align: 'center', textAlign: 'center', verticalAlign: 'middle', textVerticalAlign: 'middle'}});

chart.setOption({graphic: {elements}});
</script>
</body></html>
